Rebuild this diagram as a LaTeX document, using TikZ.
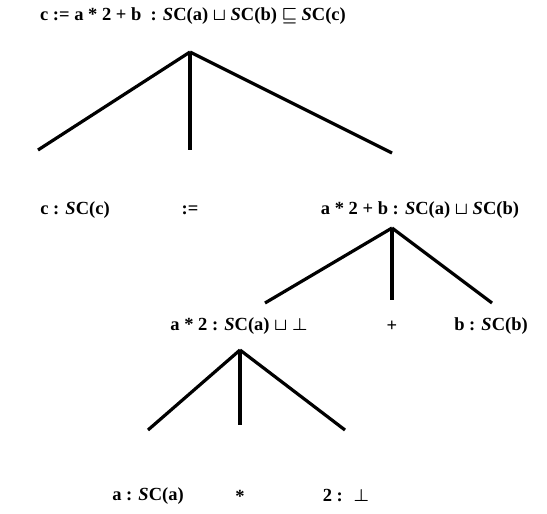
\documentclass[tikz,border=0pt]{standalone}
\usepackage{fontspec}
\setmainfont{Liberation Serif}
\usepackage{amsmath}
\usepackage{amssymb}
\usetikzlibrary{positioning, calc}
\newcommand{\SCof}[1]{{\itshape S}C(#1)}

\begin{document}
\begin{tikzpicture}[
    x=1pt, y=-1pt,
    term/.style={inner sep=0pt, font=\bfseries\fontsize{18.5}{20}\selectfont},
    branch/.style={line width=3.2pt, draw=black}
]
    \useasboundingbox (0,0) rectangle (547,514);

    % Nodes placement
    \node (root) [term] at (193,16) {c := a * 2 + b \ : \SCof{a} $\boldsymbol{\sqcup}$ \SCof{b} $\boldsymbol{\sqsubseteq}$ \SCof{c}};
    \node (lhs) [term] at (75,210) {c : \SCof{c}};
    \node (assign) [term] at (190,210) {:=};
    \node (rhs) [term] at (420,210) {a * 2 + b : \SCof{a} $\boldsymbol{\sqcup}$ \SCof{b}};
    \node (prod) [term] at (239,326) {a * 2 : \SCof{a} $\boldsymbol{\sqcup}$ $\boldsymbol{\bot}$};
    \node (plus) [term] at (392,326) {+};
    \node (bvar) [term] at (491,326) {b : \SCof{b}};
    \node (avar) [term] at (148,496) {a : \SCof{a}};
    \node (times) [term] at (240,496) {*};
    \node (two) [term] at (346,496) {2 : \ $\boldsymbol{\bot}$};

    % Branch points
    \coordinate (top1) at (190,52);
    \coordinate (top2) at (392,228);
    \coordinate (top3) at (240,350);
    \coordinate (end1l) at (38,150);
    \coordinate (end1m) at (190,150);
    \coordinate (end1r) at (392,153);
    \coordinate (end2l) at (265,303);
    \coordinate (end2m) at (392,300);
    \coordinate (end2r) at (492,303);
    \coordinate (end3l) at (148,430);
    \coordinate (end3m) at (240,425);
    \coordinate (end3r) at (345,430);

    % Tree branches
    \draw [branch] (top1) -- (end1l);
    \draw [branch] (top1) -- (end1m);
    \draw [branch] (top1) -- (end1r);
    \draw [branch] (top2) -- (end2l);
    \draw [branch] (top2) -- (end2m);
    \draw [branch] (top2) -- (end2r);
    \draw [branch] (top3) -- (end3l);
    \draw [branch] (top3) -- (end3m);
    \draw [branch] (top3) -- (end3r);

\end{tikzpicture}
\end{document}
